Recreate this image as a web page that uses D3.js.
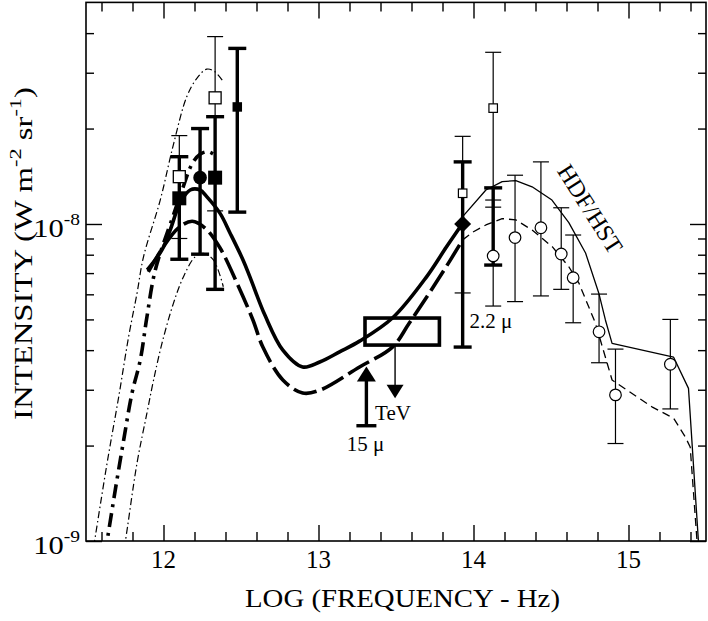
<!DOCTYPE html>
<html><head><meta charset="utf-8">
<script src="https://cdn.jsdelivr.net/npm/d3@7"></script>
<style>
html,body{margin:0;padding:0;background:#fff;}
svg{display:block;}
text{font-family:"Liberation Serif","Times New Roman",Times,serif;fill:#000;}
</style></head><body>
<svg id="c" width="708" height="621"></svg>
<script>
// ---------------- DATA ----------------
const xMajorTicks = [12, 13, 14, 15];
const xTickLabels = ["12", "13", "14", "15"];
const xMinorTicks = [11.6, 11.8, 12.2, 12.4, 12.6, 12.8, 13.2, 13.4, 13.6, 13.8, 14.2, 14.4, 14.6, 14.8, 15.2, 15.4];
const yMajorTicks = [1e-9, 1e-8];
const yTickExponents = ["-9", "-8"];
const yMinorTicks = [2e-9, 3e-9, 4e-9, 5e-9, 6e-9, 7e-9, 8e-9, 9e-9, 2e-8, 3e-8, 4e-8];

// model curves: [log frequency, intensity]
const thinUpperDashDot = [[11.55,0.96e-9],[11.561,1.04e-9],[11.636,1.76e-9],[11.711,2.85e-9],[11.775,4.41e-9],[11.829,6.04e-9],[11.871,7.88e-9],[11.979,11.9e-9],[12.064,17.8e-9],[12.150,25.2e-9],[12.215,28.8e-9],[12.279,30.8e-9],[12.332,30.2e-9],[12.386,28.1e-9]];
const thinLowerDashDot = [[11.745,0.95e-9],[11.754,1.0e-9],[11.829,1.76e-9],[11.893,2.53e-9],[11.936,3.22e-9],[11.990,4.2e-9],[12.064,5.62e-9],[12.129,6.82e-9],[12.204,7.88e-9],[12.257,8.08e-9],[12.322,7.7e-9],[12.386,6.34e-9]];
const thickDashDot = [[11.62,0.9e-9],[11.636,1.0e-9],[11.689,1.45e-9],[11.743,2.08e-9],[11.797,2.93e-9],[11.850,3.72e-9],[11.893,5.09e-9],[11.947,7.16e-9],[12.056,10.4e-9],[12.120,12.8e-9],[12.185,15.5e-9],[12.236,16.6e-9],[12.287,16.9e-9],[12.339,16.4e-9]];
const thickSolid = [[11.895,7.16e-9],[11.990,8.28e-9],[12.043,9.57e-9],[12.107,11.65e-9],[12.172,12.8e-9],[12.236,12.8e-9],[12.279,12.2e-9],[12.365,10.8e-9],[12.429,9.37e-9],[12.513,7.7e-9],[12.558,6.8e-9],[12.654,5.16e-9],[12.770,4.0e-9],[12.898,3.54e-9],[13.008,3.67e-9],[13.136,3.95e-9],[13.265,4.27e-9],[13.477,5.05e-9],[13.696,6.8e-9],[13.825,8.46e-9],[13.927,10.0e-9]];
const thickDashed = [[11.902,7.06e-9],[11.998,8.46e-9],[12.095,9.71e-9],[12.185,10.2e-9],[12.268,9.71e-9],[12.365,8.4e-9],[12.474,6.51e-9],[12.577,4.98e-9],[12.641,4.09e-9],[12.770,3.22e-9],[12.898,2.93e-9],[13.008,2.99e-9],[13.265,3.54e-9],[13.477,4.09e-9],[13.586,4.87e-9],[13.798,7.0e-9],[13.930,8.91e-9]];
const hdfSolid = [[13.927,10.0e-9],[13.930,10.55e-9],[14.080,12.8e-9],[14.185,13.6e-9],[14.273,13.7e-9],[14.378,13.1e-9],[14.506,11.9e-9],[14.615,10.1e-9],[14.723,8.1e-9],[14.808,6.06e-9],[14.851,4.98e-9],[14.894,4.2e-9],[15.291,3.8e-9],[15.387,3.03e-9],[15.451,1.0e-9],[15.46,0.9e-9]];
const hdfDashed = [[13.930,8.91e-9],[14.000,9.45e-9],[14.080,9.93e-9],[14.185,10.4e-9],[14.273,10.3e-9],[14.378,9.57e-9],[14.508,8.48e-9],[14.615,7.33e-9],[14.680,6.51e-9],[14.787,4.86e-9],[14.894,3.22e-9],[15.151,2.65e-9],[15.291,2.44e-9],[15.366,2.13e-9],[15.398,1.98e-9],[15.442,1.0e-9],[15.45,0.9e-9]];

// data points with error bars: x, value, low, high, symbol, bar weight
const farIrPoints = [
  {x:12.102, v:14.1e-9, lo:9.0e-9,  hi:19.0e-9, sym:"openSquareL",  bar:"thin"},
  {x:12.102, v:12.05e-9,lo:7.74e-9, hi:16.3e-9, sym:"filledSquareL",bar:"thick"},
  {x:12.236, v:14.0e-9, lo:8.03e-9, hi:20.0e-9, sym:"filledCircle", bar:"thick"},
  {x:12.333, v:25.0e-9, lo:11.0e-9, hi:39.0e-9, sym:"openSquareL",  bar:"thin"},
  {x:12.333, v:14.0e-9, lo:6.22e-9, hi:21.8e-9, sym:"filledSquareL",bar:"thick"},
  {x:12.476, v:23.4e-9, lo:10.9e-9, hi:35.8e-9, sym:"filledSquareS",bar:"thick"}
];
const nearIrPoints = [
  {x:13.930, v:12.5e-9, lo:6.06e-9, hi:18.9e-9, sym:"openSquareS", bar:"thin"},
  {x:13.930, v:10.0e-9, lo:4.09e-9, hi:15.7e-9, sym:"diamond",     bar:"thick"},
  {x:14.127, v:23.2e-9, lo:5.51e-9, hi:34.8e-9, sym:"openSquareS", bar:"thin"},
  {x:14.127, v:null,    lo:11.3e-9, hi:11.9e-9, sym:"none",        bar:"thin"},
  {x:14.127, v:7.93e-9, lo:7.42e-9, hi:13.0e-9, sym:"openCircle",  bar:"thick"}
];
const hdfPoints = [
  {x:14.268, v:9.06e-9, lo:5.69e-9, hi:14.25e-9},
  {x:14.435, v:9.73e-9, lo:5.93e-9, hi:15.7e-9},
  {x:14.566, v:8.04e-9, lo:6.22e-9, hi:11.25e-9},
  {x:14.643, v:6.77e-9, lo:4.88e-9, hi:9.23e-9},
  {x:14.810, v:4.57e-9, lo:3.65e-9, hi:6.01e-9},
  {x:14.916, v:2.89e-9, lo:2.03e-9, hi:4.03e-9},
  {x:15.270, v:3.61e-9, lo:2.61e-9, hi:5.0e-9}
];
// limits
const isoBox = {x0:13.30, x1:13.78, lo:4.15e-9, hi:5.05e-9};
const tevLimit = {x:13.494, from:4.15e-9, to:2.82e-9, label:"TeV"};
const mu15Limit = {x:13.309, from:2.31e-9, to:3.55e-9, label:"15 \u03bc"};
const mu22Label = {x:13.935, v:4.5e-9, label:"2.2 \u03bc"};
const hdfLabel = "HDF/HST";

// ---------------- CHART ----------------
const L = 86, R = 706, T = 2.4, B = 541;
const svg = d3.select("#c");
const x = d3.scaleLinear().domain([11.5, 15.5]).range([L, R]);
const y = d3.scaleLog().domain([1e-9, 5e-8]).range([B, T]);

svg.append("defs").append("clipPath").attr("id","clip")
  .append("rect").attr("x",L).attr("y",T).attr("width",R-L).attr("height",B-T);

const plot = svg.append("g").attr("clip-path","url(#clip)");

function drawLine(data, width, dash, curve){
  const ln = d3.line().x(d=>x(d[0])).y(d=>y(d[1])).curve(curve || d3.curveCatmullRom.alpha(0.5));
  plot.append("path").datum(data).attr("d", ln)
    .attr("fill","none").attr("stroke","#000").attr("stroke-width",width)
    .attr("stroke-dasharray", dash || null).attr("stroke-linejoin","round");
}
drawLine(thinUpperDashDot, 1.2, "7,3,1.5,3");
drawLine(thinLowerDashDot, 1.2, "7,3,1.5,3");
drawLine(thickDashDot, 3.6, "14,6,3,6");
drawLine(thickSolid, 3.6, null);
drawLine(thickDashed, 3.6, "24,6");
drawLine(hdfSolid, 1.3, null, d3.curveLinear);
drawLine(hdfDashed, 1.3, "8,5", d3.curveLinear);

// ISO box
plot.append("rect").attr("x",x(isoBox.x0)).attr("y",y(isoBox.hi))
  .attr("width",x(isoBox.x1)-x(isoBox.x0)).attr("height",y(isoBox.lo)-y(isoBox.hi))
  .attr("fill","none").attr("stroke","#000").attr("stroke-width",3.6);

// error bars
function errorBar(g, d, thick){
  const w = thick ? 3.4 : 1.2, cap = thick ? 9 : 8;
  const xx = x(d.x);
  g.append("line").attr("x1",xx).attr("x2",xx).attr("y1",y(d.lo)).attr("y2",y(d.hi))
    .attr("stroke","#000").attr("stroke-width",w);
  [d.lo,d.hi].forEach(v=>{
    g.append("line").attr("x1",xx-cap).attr("x2",xx+cap).attr("y1",y(v)).attr("y2",y(v))
      .attr("stroke","#000").attr("stroke-width",w);
  });
}
const bars = svg.append("g");
const marks = svg.append("g");
function marker(d){
  const cx = x(d.x), cy = y(d.v);
  const sq = (s, fill, sw)=> marks.append("rect").attr("x",cx-s/2).attr("y",cy-s/2).attr("width",s).attr("height",s)
      .attr("fill",fill).attr("stroke","#000").attr("stroke-width",sw);
  switch(d.sym){
    case "openSquareL": sq(12,"#fff",1.3); break;
    case "openSquareS": sq(8.5,"#fff",1.2); break;
    case "filledSquareL": sq(14,"#000",0); break;
    case "filledSquareS": sq(9.5,"#000",0); break;
    case "filledCircle": marks.append("circle").attr("cx",cx).attr("cy",cy).attr("r",6.8).attr("fill","#000"); break;
    case "openCircle": marks.append("circle").attr("cx",cx).attr("cy",cy).attr("r",5.8).attr("fill","#fff").attr("stroke","#000").attr("stroke-width",1.2); break;
    case "diamond": marks.append("rect").attr("x",-6).attr("y",-6).attr("width",12).attr("height",12)
        .attr("transform",`translate(${cx},${cy}) rotate(45)`).attr("fill","#000"); break;
  }
}
farIrPoints.concat(nearIrPoints).forEach(d=>{ errorBar(bars, d, d.bar==="thick"); });
hdfPoints.forEach(d=>{ errorBar(bars, d, false); });
farIrPoints.concat(nearIrPoints).forEach(d=>{ if(d.v!==null) marker(d); });
hdfPoints.forEach(d=>marker(Object.assign({sym:"openCircle"}, d)));

// TeV upper limit arrow
{
  const xx = x(tevLimit.x), y0 = y(tevLimit.from), y1 = y(tevLimit.to);
  marks.append("line").attr("x1",xx).attr("x2",xx).attr("y1",y0).attr("y2",y1-12).attr("stroke","#000").attr("stroke-width",1.4);
  marks.append("path").attr("d",`M${xx-8.5},${y1-13.5}L${xx+8.5},${y1-13.5}L${xx},${y1}Z`).attr("fill","#000");
  svg.append("text").attr("x",xx-20).attr("y",420).style("font-size","21px").text(tevLimit.label);
}
// 15 micron lower limit arrow
{
  const xx = x(mu15Limit.x), y0 = y(mu15Limit.from), y1 = y(mu15Limit.to);
  marks.append("line").attr("x1",xx).attr("x2",xx).attr("y1",y0).attr("y2",y1+13).attr("stroke","#000").attr("stroke-width",3.4);
  marks.append("line").attr("x1",xx-10).attr("x2",xx+10).attr("y1",y0).attr("y2",y0).attr("stroke","#000").attr("stroke-width",3.4);
  marks.append("path").attr("d",`M${xx-9.5},${y1+15}L${xx+9.5},${y1+15}L${xx},${y1}Z`).attr("fill","#000");
  svg.append("text").attr("x",xx-1).attr("y",451).attr("text-anchor","middle").style("font-size","21px").text(mu15Limit.label);
}
svg.append("text").attr("x",x(mu22Label.x)+6).attr("y",328).style("font-size","21px").text(mu22Label.label);
svg.append("text").style("font-size","24px").attr("text-anchor","middle").attr("dominant-baseline","central")
  .attr("transform","translate(590,209) rotate(57.6)").text(hdfLabel);

// ---------------- AXES ----------------
const axG = svg.append("g").attr("class","axes");
function styleAxis(g){ g.select(".domain").remove(); g.selectAll(".tick line").attr("stroke","#000").attr("stroke-width",1.4); g.selectAll(".tick text").remove(); }
axG.append("g").attr("transform",`translate(0,${B})`).call(d3.axisBottom(x).tickValues(xMajorTicks).tickSize(-16).tickFormat("")).call(styleAxis);
axG.append("g").attr("transform",`translate(0,${B})`).call(d3.axisBottom(x).tickValues(xMinorTicks).tickSize(-9).tickFormat("")).call(styleAxis);
axG.append("g").attr("transform",`translate(0,${T})`).call(d3.axisTop(x).tickValues(xMajorTicks).tickSize(-16).tickFormat("")).call(styleAxis);
axG.append("g").attr("transform",`translate(0,${T})`).call(d3.axisTop(x).tickValues(xMinorTicks).tickSize(-9).tickFormat("")).call(styleAxis);
axG.append("g").attr("transform",`translate(${L},0)`).call(d3.axisLeft(y).tickValues(yMajorTicks).tickSize(-16).tickFormat("")).call(styleAxis);
axG.append("g").attr("transform",`translate(${L},0)`).call(d3.axisLeft(y).tickValues(yMinorTicks).tickSize(-8).tickFormat("")).call(styleAxis);
axG.append("g").attr("transform",`translate(${R},0)`).call(d3.axisRight(y).tickValues(yMajorTicks).tickSize(-16).tickFormat("")).call(styleAxis);
axG.append("g").attr("transform",`translate(${R},0)`).call(d3.axisRight(y).tickValues(yMinorTicks).tickSize(-8).tickFormat("")).call(styleAxis);
svg.append("rect").attr("x",L).attr("y",T).attr("width",R-L).attr("height",B-T)
  .attr("fill","none").attr("stroke","#000").attr("stroke-width",1.6);

// tick labels
xMajorTicks.forEach((v,i)=>{
  svg.append("text").attr("x",x(v)).attr("y",568).attr("text-anchor","middle").style("font-size","25px").text(xTickLabels[i]);
});
yMajorTicks.forEach((v,i)=>{
  const t = svg.append("text").attr("x",0).attr("y",0).attr("text-anchor","end").style("font-size","25px")
    .attr("transform",`translate(80,${y(v)+13}) scale(1.22,1)`);
  t.append("tspan").text("10");
  t.append("tspan").style("font-size","16px").attr("dy",-12).text(yTickExponents[i]);
});

// axis titles
const xt = svg.append("text").style("font-size","25px").attr("text-anchor","middle").text("LOG (FREQUENCY - Hz)");
{
  const w = xt.node().getComputedTextLength();
  xt.attr("transform",`translate(402.5,606.5) scale(${315/w},1)`);
}
const yt = svg.append("text").style("font-size","25px").attr("text-anchor","middle");
yt.append("tspan").text("INTENSITY (W m");
yt.append("tspan").style("font-size","17px").attr("dy",-11).text("-2");
yt.append("tspan").attr("dy",11).text(" sr");
yt.append("tspan").style("font-size","17px").attr("dy",-11).text("-1");
yt.append("tspan").attr("dy",11).text(")");
{
  const w = yt.node().getBBox().width;
  yt.attr("transform",`translate(31.5,253.5) rotate(-90) scale(${333/w},1)`);
}
</script>
</body></html>
